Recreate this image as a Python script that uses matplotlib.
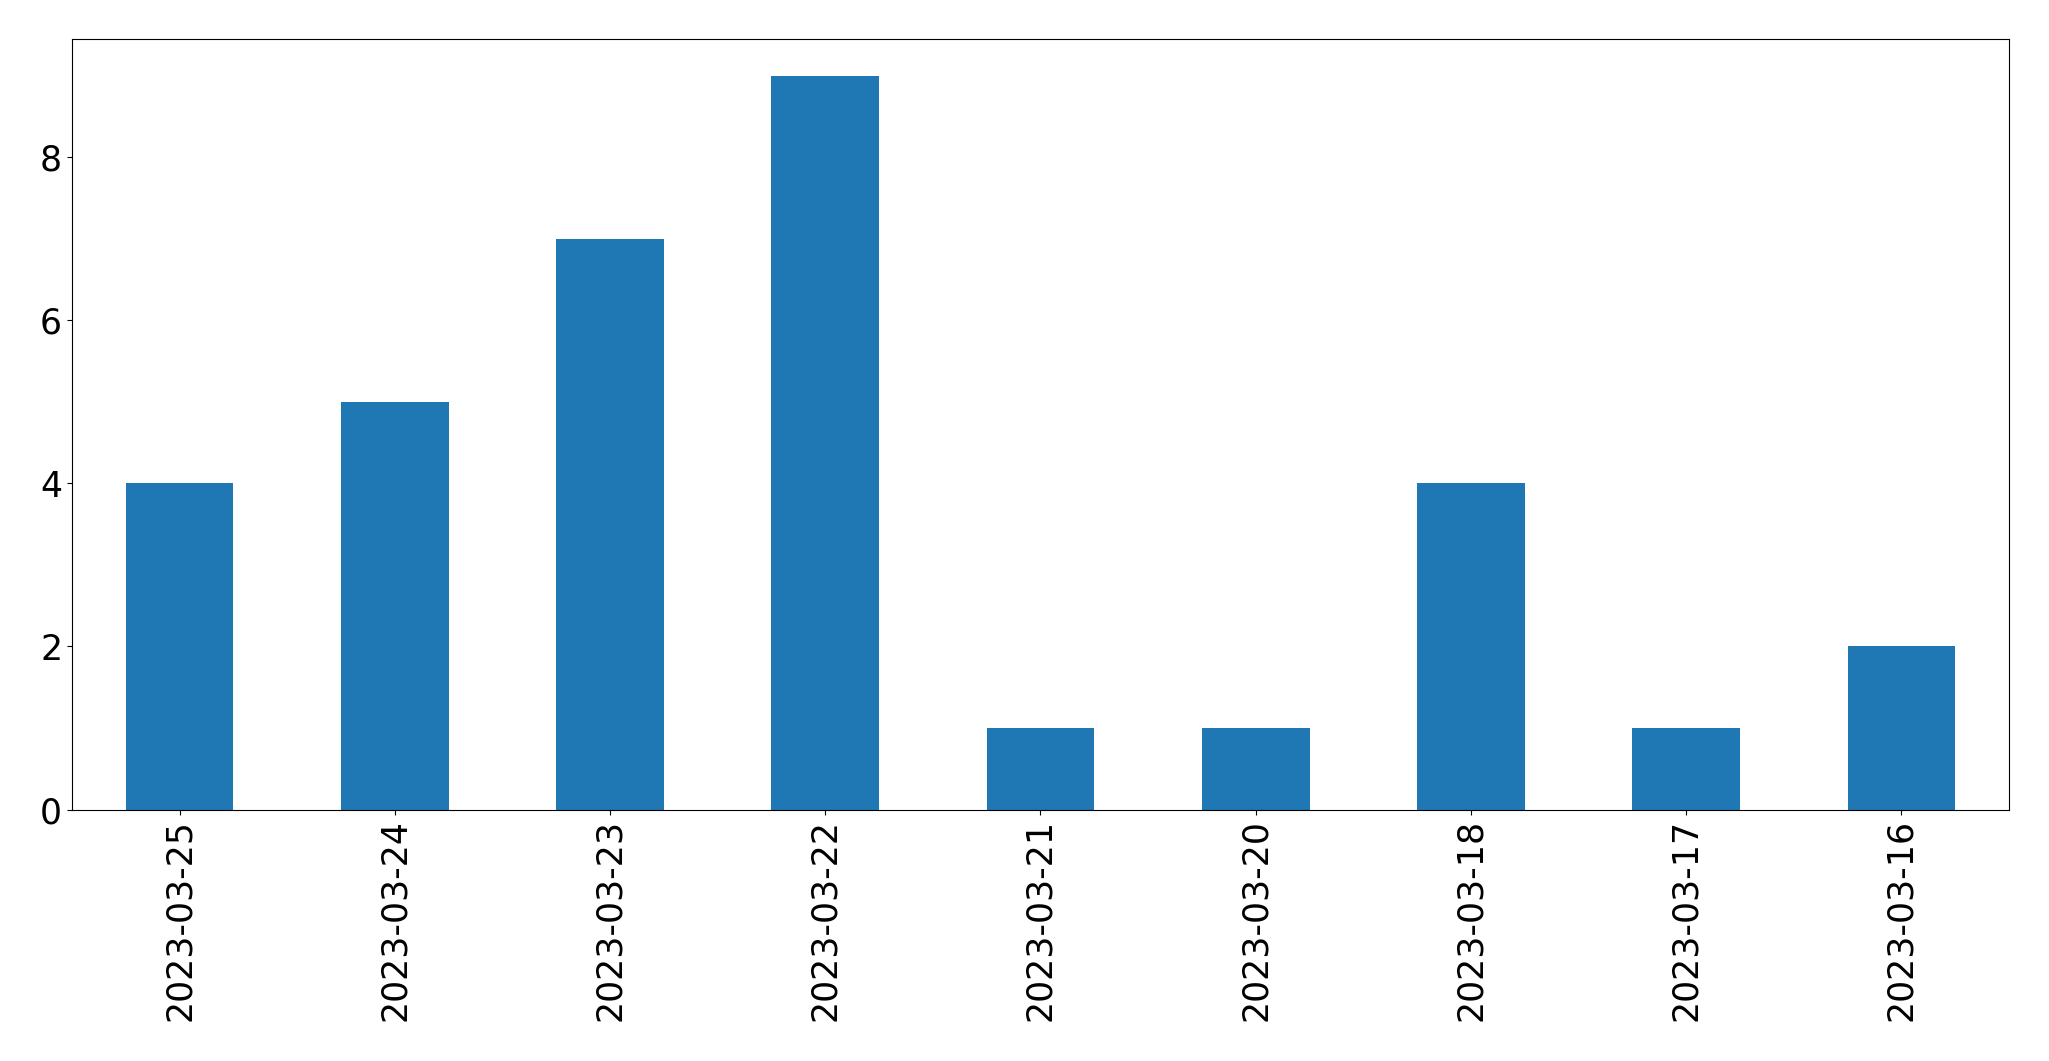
import pandas as pd
import matplotlib.pyplot as plt

dates = ['2023-03-25', '2023-03-24', '2023-03-23', '2023-03-22', '2023-03-21',
         '2023-03-20', '2023-03-18', '2023-03-17', '2023-03-16']
counts = [4, 5, 7, 9, 1, 1, 4, 1, 2]

s = pd.Series(counts, index=dates)

fig = plt.figure(figsize=(20.49, 10.61), dpi=100)
ax = fig.add_axes([0.0351, 0.237, 0.9454, 0.7262])
s.plot(kind='bar', ax=ax, fontsize=25)

fig.savefig('out.png', dpi=100)
